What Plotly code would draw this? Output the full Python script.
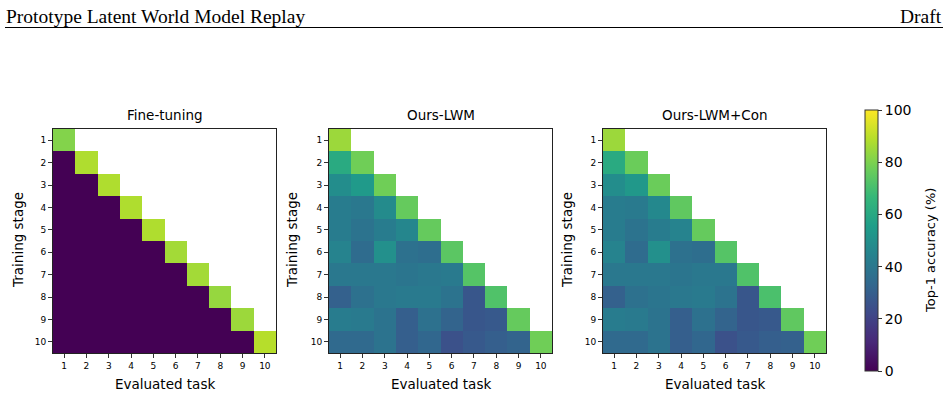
import plotly.graph_objects as go

W, H = 948, 396

tasks = list(range(1, 11))
stages = list(range(1, 11))

ft_diag = [81, 88, 88, 88, 88, 86, 86, 84, 85, 89]
ft_off = 0

lwm_rows = [
    [85],
    [61, 78],
    [49, 54, 78],
    [42, 40, 48, 76],
    [42, 38, 42, 46, 76],
    [45, 35, 50, 37, 36, 74],
    [40, 40, 40, 39, 40, 41, 73],
    [31, 37, 40, 41, 41, 38, 27, 72],
    [42, 41, 38, 30, 37, 32, 27, 28, 76],
    [34, 34, 38, 30, 33, 25, 28, 30, 32, 78],
]

con_rows = [
    [85],
    [61, 77],
    [49, 53, 77],
    [42, 41, 47, 75],
    [42, 38, 42, 45, 76],
    [45, 35, 50, 37, 36, 73],
    [40, 40, 40, 39, 40, 40, 72],
    [31, 37, 39, 40, 41, 38, 27, 71],
    [42, 41, 38, 30, 37, 32, 27, 28, 75],
    [34, 34, 38, 30, 33, 25, 28, 30, 31, 78],
]

titles = ["Fine-tuning", "Ours-LWM", "Ours-LWM+Con"]


def full(rows):
    return [r + [None] * (10 - len(r)) for r in rows]


ft_rows = [[ft_off] * i + [ft_diag[i]] for i in range(10)]
mats = [full(ft_rows), full(lwm_rows), full(con_rows)]

# panel pixel boxes (left, right), top/bottom
boxes_x = [(53, 276), (329, 552), (603, 826)]
top_px, bot_px = 129, 353
ytitle_x = [18, 292, 567]

FONT = "DejaVu Sans"

fig = go.Figure()
for i, z in enumerate(mats):
    sfx = "" if i == 0 else str(i + 1)
    fig.add_trace(go.Heatmap(
        z=z, x=tasks, y=stages, coloraxis="coloraxis",
        xaxis="x" + sfx, yaxis="y" + sfx, hoverongaps=False,
    ))

layout = dict(
    width=W, height=H, margin=dict(l=0, r=0, t=0, b=0),
    paper_bgcolor="white", plot_bgcolor="white",
    font=dict(family=FONT, color="black"),
    coloraxis=dict(
        colorscale="Viridis", cmin=0, cmax=100,
        colorbar=dict(
            x=865 / W, xanchor="left", xref="paper", xpad=0, ypad=0,
            y=(H - 240.5) / H, yanchor="middle", len=261 / H, lenmode="fraction",
            thickness=13, thicknessmode="pixels",
            outlinewidth=1, outlinecolor="#333",
            ticks="outside", ticklen=4, tickcolor="#333",
            tickvals=[0, 20, 40, 60, 80, 100],
            tickfont=dict(family=FONT, size=14, color="black"),
        ),
    ),
    showlegend=False,
)

annotations = []
for i, (xl, xr) in enumerate(boxes_x):
    sfx = "" if i == 0 else str(i + 1)
    layout["xaxis" + sfx] = dict(
        domain=[xl / W, xr / W], anchor="y" + sfx, range=[0.5, 10.5],
        tickvals=tasks, ticktext=[str(t) for t in tasks],
        ticks="outside", ticklen=4, tickcolor="#333", tickfont=dict(size=9),
        showline=True, linecolor="#222", linewidth=1, mirror=True,
        showgrid=False, zeroline=False, fixedrange=True,
    )
    layout["yaxis" + sfx] = dict(
        domain=[(H - bot_px) / H, (H - top_px) / H], anchor="x" + sfx,
        range=[10.5, 0.5],
        tickvals=stages, ticktext=[str(s) for s in stages],
        ticks="outside", ticklen=4, tickcolor="#333", tickfont=dict(size=9),
        showline=True, linecolor="#222", linewidth=1, mirror=True,
        showgrid=False, zeroline=False, fixedrange=True,
    )
    cx = (xl + xr) / 2 / W
    annotations.append(dict(text=titles[i], x=cx, y=(H - 115) / H, xref="paper", yref="paper",
                            showarrow=False, font=dict(size=13.5), xanchor="center", yanchor="middle"))
    annotations.append(dict(text="Evaluated task", x=cx, y=(H - 384) / H, xref="paper", yref="paper",
                            showarrow=False, font=dict(size=13.5), xanchor="center", yanchor="middle"))
    annotations.append(dict(text="Training stage", x=ytitle_x[i] / W, y=(H - 240) / H, xref="paper",
                            yref="paper", showarrow=False, font=dict(size=13.5), textangle=-90,
                            xanchor="center", yanchor="middle"))

annotations.append(dict(text="Top-1 accuracy (%)", x=930 / W, y=(H - 251) / H, xref="paper", yref="paper",
                        showarrow=False, font=dict(size=13), textangle=-90,
                        xanchor="center", yanchor="middle"))
annotations.append(dict(text="Prototype Latent World Model Replay", x=4 / W, y=(H - 16) / H,
                        xref="paper", yref="paper", showarrow=False,
                        font=dict(family="Liberation Serif", size=19.5), xanchor="left", yanchor="middle"))
annotations.append(dict(text="Draft", x=944 / W, y=(H - 16) / H,
                        xref="paper", yref="paper", showarrow=False,
                        font=dict(family="Liberation Serif", size=19.5), xanchor="right", yanchor="middle"))
layout["annotations"] = annotations
layout["shapes"] = [dict(type="line", xref="paper", yref="paper", x0=5 / W, x1=943 / W,
                         y0=(H - 27.5) / H, y1=(H - 27.5) / H, line=dict(color="black", width=1.2))]

fig.update_layout(**layout)
fig.write_html("out.html")
